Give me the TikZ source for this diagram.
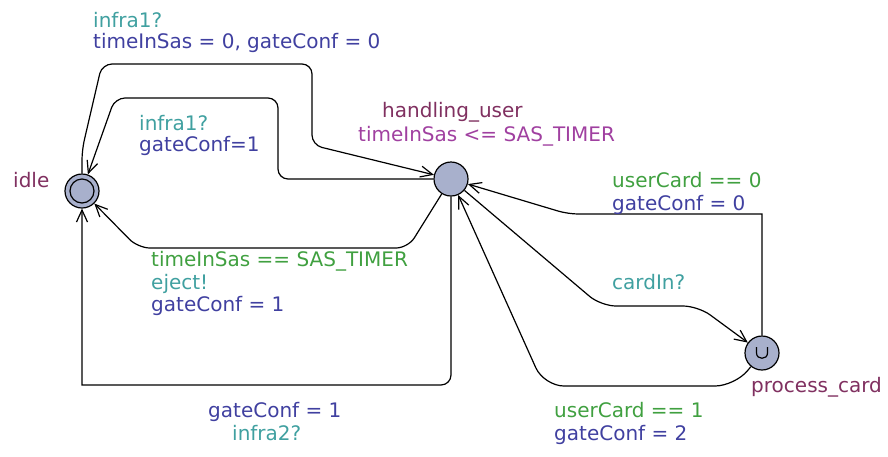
\documentclass[tikz,border=0pt]{standalone}
\usepackage{fontspec}
\setmainfont{DejaVu Sans}
\usetikzlibrary{arrows.meta}

\definecolor{locfill}{RGB}{168,176,204}
\definecolor{namecol}{RGB}{128,48,96}
\definecolor{invcol}{RGB}{160,64,160}
\definecolor{guardcol}{RGB}{64,160,64}
\definecolor{synccol}{RGB}{64,160,160}
\definecolor{assigncol}{RGB}{64,64,160}

\tikzset{
  loc/.style={circle, draw, fill=locfill, line width=1.2pt, minimum size=34pt, inner sep=0pt},
  edge/.style={draw, line width=1.2pt, -{Straight Barb[length=12pt,width=11pt]}},
  lbl/.style={anchor=base west, inner sep=0pt},
  locname/.style={lbl, text=namecol},
  inv/.style={lbl, text=invcol},
  guard/.style={lbl, text=guardcol},
  sync/.style={lbl, text=synccol},
  assign/.style={lbl, text=assigncol}
}

\begin{document}
\begin{tikzpicture}[x=1pt, y=-1pt, font=\fontsize{20}{22}\selectfont]
    \useasboundingbox (0,0) rectangle (888,456);

    % Locations
    \node[loc] (idle) at (82,191) {};
    \node[loc] (hand) at (451,179) {};
    \node[loc] (proc) at (762,353) {};
    \draw[line width=1.2pt] (idle) circle (12pt);
    \draw[line width=1.2pt] (756.5,347) -- (756.5,353)
        .. controls (756.5,360) and (767.5,360) .. (767.5,353) -- (767.5,347);

    % Edges from handling_user back to idle
    \draw[edge, rounded corners=10pt] (idle) -- (82,150) -- (102,64) -- (312,64) -- (312,145) -- (hand);
    \draw[edge, rounded corners=10pt] (hand) -- (278,179) -- (278,98) -- (115,98) -- (idle);
    \draw[edge, rounded corners=12pt] (hand) -- (408,248) -- (138,248) -- (idle);
    \draw[edge, rounded corners=10pt] (hand) -- (451,385) [sharp corners] -- (82,385) -- (idle);

    % Edges to and from process_card
    \draw[edge, rounded corners=15pt] (hand) -- (601,306) -- (698,306) -- (proc);
    \draw[edge] (proc) -- (762,214) [rounded corners=10pt] -- (568,214) -- (hand);
    \draw[edge, rounded corners=20pt] (proc) -- (735,386) -- (544,386) -- (hand);

    % Location labels
    \node[locname] (nidle) at (13,187) {idle};
    \node[locname] (nhand) at (382,117.5) {handling\_user};
    \node[inv] (ihand) at (358,141) {timeInSas <= SAS\_TIMER};
    \node[locname] (nproc) at (751,392.5) {process\_card};

    % Edge labels
    \node[sync] (s1) at (93,27) {infra1?};
    \node[assign] (a1) at (93,48.5) {timeInSas = 0, gateConf = 0};
    \node[sync] (s2) at (139,130) {infra1?};
    \node[assign] (a2) at (139,151.5) {gateConf=1};
    \node[guard] (g3) at (151,266.5) {timeInSas == SAS\_TIMER};
    \node[sync] (s3) at (151,289) {eject!};
    \node[assign] (a3) at (151,311) {gateConf = 1};
    \node[assign] (a4) at (208,417.5) {gateConf = 1};
    \node[sync] (s4) at (232,440) {infra2?};
    \node[sync] (s5) at (612,289.5) {cardIn?};
    \node[guard] (g6) at (612,187) {userCard == 0};
    \node[assign] (a6) at (612,210) {gateConf = 0};
    \node[guard] (g7) at (554,417) {userCard == 1};
    \node[assign] (a7) at (554,440) {gateConf = 2};
\end{tikzpicture}
\end{document}
